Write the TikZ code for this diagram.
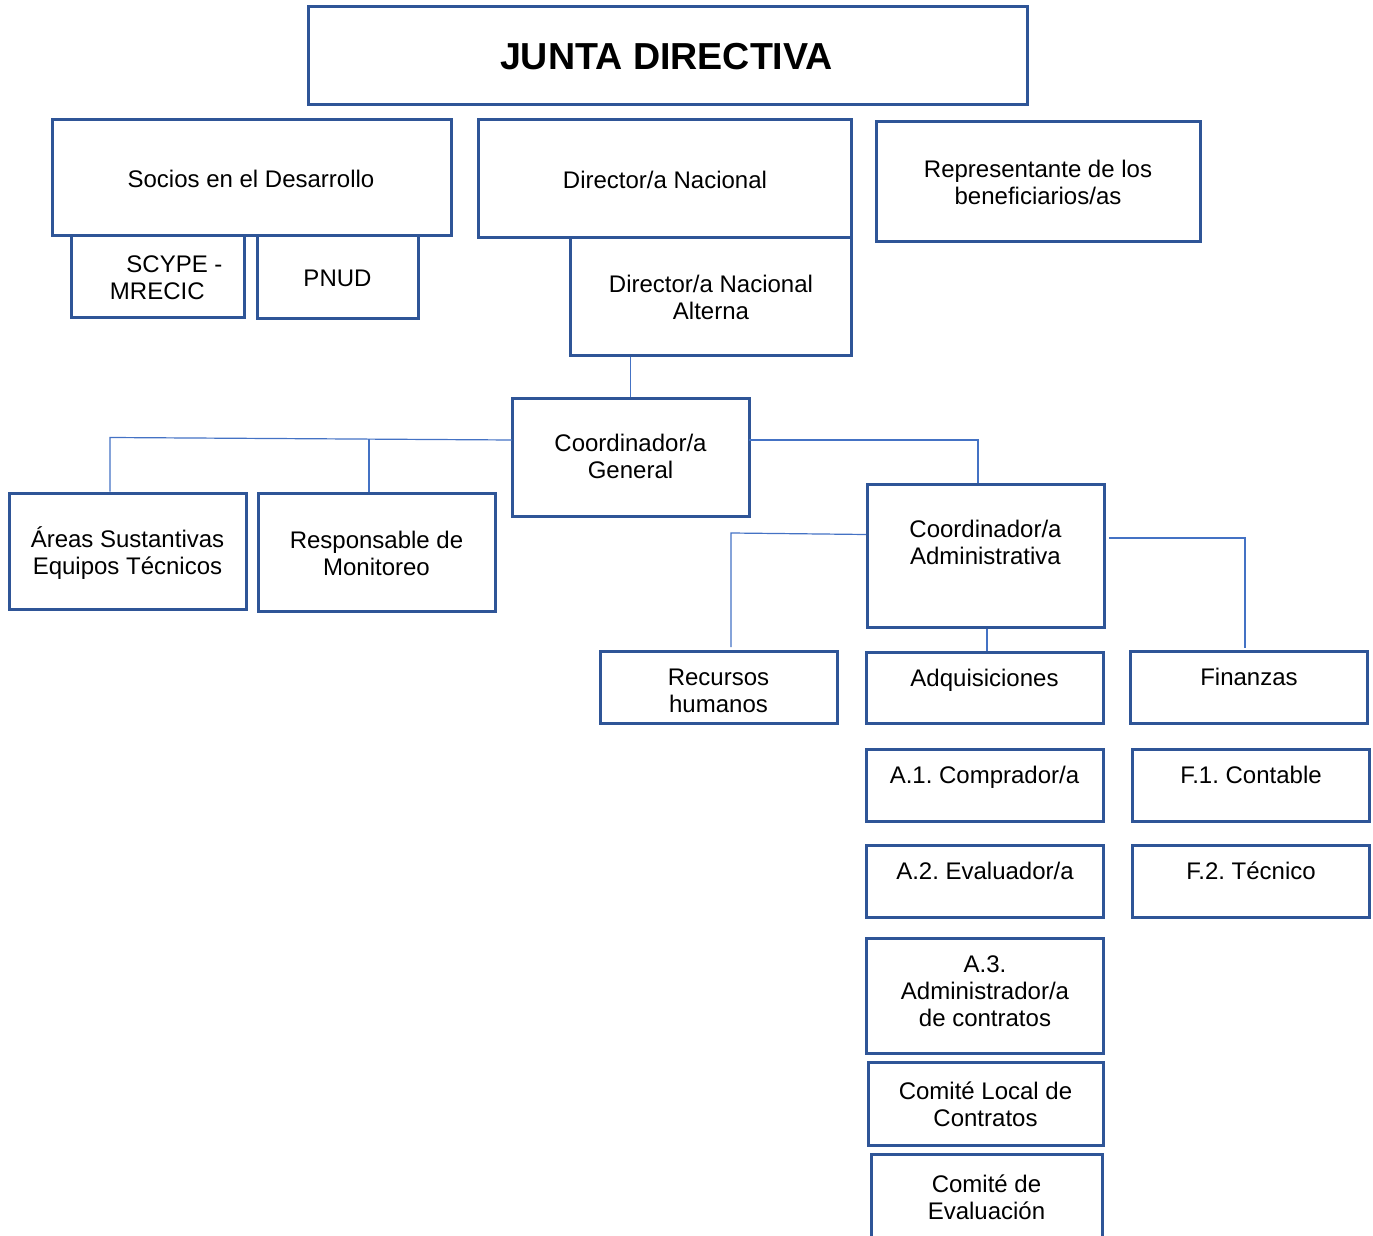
\documentclass[tikz,border=0pt]{standalone}
\usepackage{fontspec}
\setmainfont{Liberation Sans}
\frenchspacing
\definecolor{boxblue}{RGB}{47,85,151}
\definecolor{lineblue}{RGB}{68,114,196}
\tikzset{
  obox/.style={draw=boxblue, line width=1.5pt, inner sep=0pt, rectangle},
  conn/.style={draw=lineblue, line width=0.6pt},
  txt/.style={inner sep=0pt, align=center, anchor=north, font=\fontsize{12}{13.5}\selectfont},
}
\newcommand{\obx}[5]{\node[obox, minimum width={(#4-#2)*0.5pt}, minimum height={(#5-#3)*0.5pt}] (#1) at ({(#2+#4)/2},{(#3+#5)/2}) {};}
\newcommand{\tx}[4]{\node[txt] (#1) at (#2,#3-26) {\rule{0pt}{13pt}#4};}
\begin{document}
\begin{tikzpicture}[x=0.5pt,y=-0.5pt]
\useasboundingbox (0,0) rectangle (1373,1236);
\clip (0,0) rectangle (1373,1236);
% boxes
\obx{jd}{308}{7}{1027}{105}
\obx{soc}{52}{120}{451}{236}
\obx{scy}{71}{236}{244}{318}
\obx{pnud}{257}{236}{418}{319}
\obx{dn}{478}{120}{851}{238}
\obx{dna}{570}{238}{851}{355}
\obx{rep}{876}{122}{1200}{242}
\obx{cg}{512}{398}{749}{516}
\obx{areas}{9}{493}{246}{609}
\obx{resp}{258}{493}{495}{611}
\obx{ca}{867}{484}{1104}{627}
\obx{rh}{600}{651}{837}{723}
\obx{adq}{866}{652}{1103}{723}
\obx{fin}{1130}{651}{1367}{723}
\obx{a1}{866}{749}{1103}{821}
\obx{f1}{1132}{749}{1369}{821}
\obx{a2}{866}{845}{1103}{917}
\obx{f2}{1132}{845}{1369}{917}
\obx{a3}{866}{938}{1103}{1053}
\obx{cl}{868}{1062}{1103}{1145}
\obx{ce}{871}{1154}{1102}{1262}
% connector points
\coordinate (cgL) at (512,440);
\coordinate (j1) at (110,437.5);
\coordinate (j2) at (369,438.8);
\coordinate (cgR) at (749,440);
\coordinate (j3) at (978,440);
\coordinate (caL) at (866,534.5);
\coordinate (j4) at (731,533);
\coordinate (caR) at (1109,538);
\coordinate (j5) at (1245,538);
% connectors
\draw[conn] (cg.north |- dna.south) -- (cg.north);
\draw[conn] (cgL) -- (j1) -- (j1 |- areas.north);
\draw[conn] (j2) -- (j2 |- resp.north);
\draw[conn] (cgR) -- (j3) -- (j3 |- ca.north);
\draw[conn] (caL) -- (j4) -- (731,647);
\draw[conn] (caR) -- (j5) -- (1245,648);
\draw[conn] (ca.south -| 987,0) -- (adq.north -| 987,0);
% texts
\node[anchor=base, inner sep=0pt, font=\fontsize{18.8}{22}\selectfont\bfseries] (jd-t) at (666.5,70) {JUNTA DIRECTIVA};
\tx{soc-t}{251}{187}{Socios en el Desarrollo}
\tx{scy-t}{157.3}{272.5}{\hspace*{17.2pt}SCYPE -\\MRECIC}
\tx{pnud-t}{337.5}{286}{PNUD}
\tx{dn-t}{665}{188.5}{Director/a Nacional}
\tx{dna-t}{711}{292}{Director/a Nacional\\Alterna}
\tx{rep-t}{1038}{177.5}{Representante de los\\beneficiarios/as}
\tx{cg-t}{630.5}{451.5}{Coordinador/a\\General}
\tx{areas-t}{127.5}{547}{Áreas Sustantivas\\Equipos Técnicos}
\tx{resp-t}{376.5}{548.5}{Responsable de\\Monitoreo}
\tx{ca-t}{985.5}{537}{Coordinador/a\\Administrativa}
\tx{rh-t}{718.5}{685}{Recursos\\humanos}
\tx{adq-t}{984.5}{686.5}{Adquisiciones}
\tx{fin-t}{1249}{685.5}{Finanzas}
\tx{a1-t}{984.5}{783.5}{A.1. Comprador/a}
\tx{f1-t}{1251}{783.5}{F.1. Contable}
\tx{a2-t}{985}{879.5}{A.2. Evaluador/a}
\tx{f2-t}{1251}{879.5}{F.2. Técnico}
\tx{a3-t}{985}{972.5}{A.3.\\Administrador/a\\de contratos}
\tx{cl-t}{985.5}{1099}{Comité Local de\\Contratos}
\tx{ce-t}{986.5}{1192}{Comité de\\Evaluación}
\end{tikzpicture}
\end{document}
